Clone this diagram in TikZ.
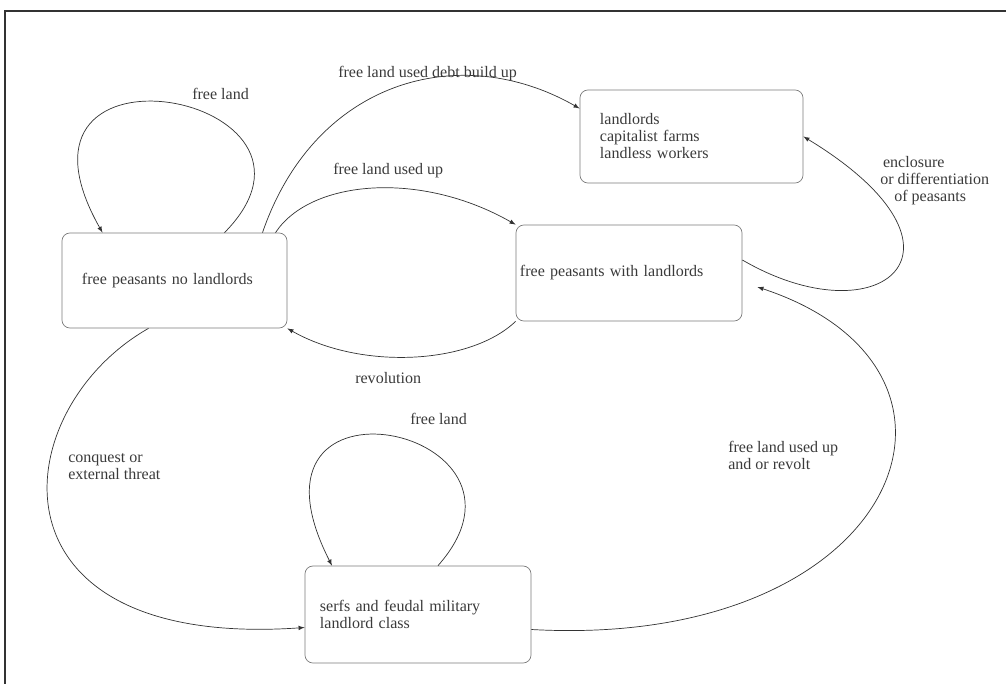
\documentclass[tikz,border=0pt]{standalone}
\usepackage{fontspec}
\setmainfont{Liberation Serif}
\usepackage{tikz}
\usetikzlibrary{arrows}
\usetikzlibrary{calc}

\definecolor{inkgray}{HTML}{333333}
\definecolor{boxgray}{HTML}{7A7A7A}
\definecolor{txtgray}{HTML}{3A3A3A}

\tikzset{
  state/.style={draw=boxgray, line width=0.5pt, rounded corners=0.2cm,
    minimum height=2.4cm, text width=4.6cm, align=left,
    font=\fontsize{11.4pt}{12.1pt}\selectfont, text=txtgray},
  lbl/.style={inner sep=0pt, anchor=west, align=left,
    font=\fontsize{11.4pt}{12.1pt}\selectfont, text=txtgray},
  edge/.style={draw=inkgray, line width=0.5pt, ->, >=latex}
}

\begin{document}
\begin{tikzpicture}[x=0.025cm, y=-0.025cm]
\useasboundingbox (0,0) rectangle (1006,684);
\draw[inkgray, line width=1.2pt] (1006,11) -- (5,11) -- (5,684);

\node[state, inner xsep=0.5cm, minimum width=5.625cm, text width=4.625cm,
   minimum height=2.375cm] (A) at (174.5,280.5)
  {free peasants no landlords};
\node[state, inner xsep=0.5cm, minimum width=5.575cm, text width=4.575cm,
   minimum height=2.325cm] (B) at (691.5,136.5)
  {landlords\\capitalist farms\\landless workers};
\node[state, inner xsep=0.1cm, minimum width=5.65cm, text width=5.45cm,
   minimum height=2.4cm] (C) at (629,273)
  {free peasants with landlords};
\node[state, inner xsep=0.375cm, minimum width=5.65cm, text width=4.9cm,
   minimum height=2.425cm] (D) at (418,614.5)
  {serfs and feudal military\\landlord class};

\draw[edge] ($(A.north)+(50,0)$) .. controls (360,95) and (-15,25) .. ($(A.north)+(-72,0)$);
\draw[edge] ($(A.north)+(88,0)$) .. controls (315,80) and (460,40) .. ($(B.west)+(0,-28)$);
\draw[edge] ($(A.north)+(101,0)$) .. controls (310,180) and (420,170) .. (C.north west);
\draw[edge] (C.south west) .. controls (470,365) and (360,370) .. (A.south east);
\draw[edge] ($(A.south)+(-26,0)$) .. controls (5,410) and (-20,650) .. ($(D.west)+(0,13)$);
\draw[edge] ($(D.north)+(20,0)$) .. controls (560,428) and (226,358) .. ($(D.north)+(-86,0)$);
\draw[edge] ($(C.east)+(0,-13)$) .. controls (880,340) and (990,250) .. (B.east);
\draw[edge] ($(D.east)+(0,15)$) .. controls (900,650) and (1010,370) .. ($(C.east)+(15,14)$);

\node[lbl] (lA) at (192,94) {free land};
\node[lbl] (lAB) at (338,74) {free land used debt build up};
\node[lbl] (lAC) at (333,171) {free land used up};
\node[lbl] (lCB) at (880,181)
  {\hspace*{2pt}enclosure\\or differentiation\\\hspace*{10pt}of peasants};
\node[lbl] (lCA) at (355,378) {revolution};
\node[lbl] (lD) at (410,419) {free land};
\node[lbl] (lAD) at (68,466.5) {conquest or\\external threat};
\node[lbl] (lDC) at (728,455) {free land used up\\and or revolt};
\end{tikzpicture}
\end{document}
